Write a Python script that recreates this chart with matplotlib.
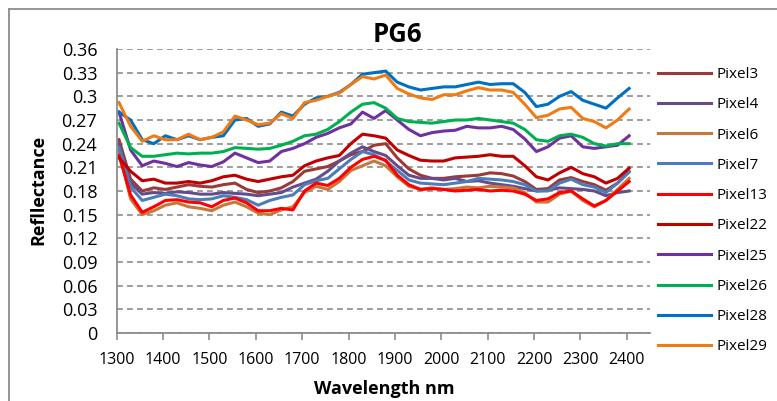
import numpy as np
import matplotlib
matplotlib.use("Agg")
import matplotlib.pyplot as plt
from matplotlib.lines import Line2D

# ##### Data #####
wavelength = np.arange(1305, 2406, 25)

pixel3 = [0.245, 0.195, 0.180, 0.184, 0.182, 0.185, 0.188, 0.186, 0.185, 0.188, 0.190, 0.182, 0.178, 0.180, 0.184,
          0.192, 0.205, 0.208, 0.211, 0.218, 0.226, 0.230, 0.238, 0.240, 0.222, 0.208, 0.200, 0.196, 0.196, 0.198,
          0.199, 0.200, 0.203, 0.202, 0.199, 0.192, 0.182, 0.183, 0.194, 0.197, 0.192, 0.188, 0.181, 0.190, 0.205]
pixel4 = [0.240, 0.190, 0.176, 0.178, 0.177, 0.179, 0.178, 0.176, 0.176, 0.178, 0.177, 0.176, 0.174, 0.176, 0.178,
          0.185, 0.190, 0.195, 0.205, 0.218, 0.228, 0.236, 0.230, 0.225, 0.212, 0.200, 0.196, 0.196, 0.194, 0.196,
          0.192, 0.193, 0.190, 0.188, 0.186, 0.183, 0.180, 0.181, 0.184, 0.183, 0.182, 0.180, 0.174, 0.178, 0.180]
pixel6 = [0.230, 0.170, 0.150, 0.155, 0.162, 0.165, 0.160, 0.158, 0.155, 0.162, 0.166, 0.160, 0.152, 0.150, 0.156,
          0.160, 0.178, 0.186, 0.182, 0.192, 0.206, 0.212, 0.218, 0.212, 0.198, 0.186, 0.182, 0.184, 0.182, 0.183,
          0.185, 0.184, 0.186, 0.185, 0.184, 0.178, 0.166, 0.166, 0.176, 0.180, 0.168, 0.160, 0.168, 0.182, 0.196]
pixel7 = [0.235, 0.185, 0.168, 0.172, 0.176, 0.174, 0.170, 0.169, 0.170, 0.174, 0.172, 0.169, 0.162, 0.168, 0.172,
          0.175, 0.188, 0.193, 0.196, 0.208, 0.220, 0.230, 0.226, 0.218, 0.206, 0.194, 0.190, 0.189, 0.188, 0.190,
          0.192, 0.196, 0.195, 0.194, 0.192, 0.188, 0.180, 0.180, 0.190, 0.195, 0.188, 0.185, 0.178, 0.190, 0.204]
pixel13 = [0.225, 0.175, 0.153, 0.160, 0.168, 0.169, 0.166, 0.165, 0.160, 0.168, 0.171, 0.165, 0.155, 0.155, 0.158,
           0.156, 0.180, 0.190, 0.187, 0.196, 0.210, 0.220, 0.224, 0.219, 0.200, 0.188, 0.182, 0.183, 0.182, 0.180,
           0.181, 0.182, 0.180, 0.181, 0.180, 0.176, 0.168, 0.170, 0.178, 0.180, 0.170, 0.161, 0.168, 0.180, 0.192]
pixel22 = [0.222, 0.205, 0.193, 0.195, 0.190, 0.190, 0.192, 0.190, 0.193, 0.198, 0.200, 0.195, 0.192, 0.195, 0.198,
           0.200, 0.212, 0.218, 0.222, 0.225, 0.240, 0.252, 0.250, 0.247, 0.232, 0.225, 0.219, 0.218, 0.218, 0.222,
           0.223, 0.224, 0.226, 0.224, 0.224, 0.212, 0.198, 0.194, 0.203, 0.210, 0.202, 0.198, 0.190, 0.196, 0.209]
pixel25 = [0.280, 0.232, 0.212, 0.218, 0.215, 0.211, 0.216, 0.213, 0.211, 0.217, 0.228, 0.222, 0.216, 0.218, 0.230,
           0.234, 0.240, 0.248, 0.253, 0.260, 0.265, 0.280, 0.272, 0.282, 0.270, 0.258, 0.250, 0.254, 0.256, 0.257,
           0.262, 0.260, 0.260, 0.262, 0.258, 0.246, 0.230, 0.236, 0.247, 0.250, 0.236, 0.234, 0.236, 0.238, 0.250]
pixel26 = [0.266, 0.235, 0.224, 0.224, 0.226, 0.228, 0.227, 0.228, 0.228, 0.230, 0.235, 0.234, 0.233, 0.234, 0.238,
           0.243, 0.250, 0.252, 0.258, 0.268, 0.280, 0.290, 0.292, 0.285, 0.272, 0.268, 0.267, 0.266, 0.268, 0.270,
           0.270, 0.272, 0.270, 0.268, 0.266, 0.258, 0.245, 0.243, 0.250, 0.252, 0.248, 0.240, 0.237, 0.240, 0.240]
pixel28 = [0.280, 0.270, 0.245, 0.240, 0.250, 0.245, 0.250, 0.245, 0.248, 0.250, 0.270, 0.272, 0.262, 0.265, 0.280,
           0.275, 0.290, 0.298, 0.300, 0.305, 0.315, 0.328, 0.330, 0.332, 0.318, 0.312, 0.308, 0.310, 0.312, 0.312,
           0.315, 0.318, 0.315, 0.316, 0.316, 0.305, 0.287, 0.290, 0.300, 0.306, 0.295, 0.290, 0.285, 0.298, 0.310]
pixel29 = [0.292, 0.262, 0.243, 0.250, 0.245, 0.245, 0.252, 0.245, 0.248, 0.255, 0.275, 0.270, 0.264, 0.266, 0.278,
           0.272, 0.292, 0.295, 0.300, 0.304, 0.315, 0.325, 0.322, 0.327, 0.310, 0.303, 0.298, 0.296, 0.302, 0.302,
           0.307, 0.311, 0.308, 0.308, 0.305, 0.290, 0.273, 0.276, 0.284, 0.286, 0.272, 0.268, 0.260, 0.270, 0.284]

series_names = ["Pixel3", "Pixel4", "Pixel6", "Pixel7", "Pixel13", "Pixel22", "Pixel25", "Pixel26", "Pixel28", "Pixel29"]
series_values = [pixel3, pixel4, pixel6, pixel7, pixel13, pixel22, pixel25, pixel26, pixel28, pixel29]
series_colors = ["#9B3B38", "#674C8A", "#C8773A", "#4A7EBB", "#FF0000", "#C00000", "#7030A0", "#00B050", "#0070C0",
                 "#F07B14"]

x_ticks = list(range(1300, 2401, 100))
y_ticks = [0, 0.03, 0.06, 0.09, 0.12, 0.15, 0.18, 0.21, 0.24, 0.27, 0.3, 0.33, 0.36]
y_tick_labels = ["0", "0.03", "0.06", "0.09", "0.12", "0.15", "0.18", "0.21", "0.24", "0.27", "0.3", "0.33", "0.36"]


def main():
    plt.rcParams['font.family'] = ['Open Sans', 'DejaVu Sans']

    W, H = 777, 401
    fig = plt.figure(figsize=(W / 100, H / 100), dpi=100)
    ax = fig.add_axes([116.7 / W, 1 - 333 / H, (650 - 116.7) / W, (333 - 49) / H])

    # chart area border (top and left edges visible)
    fig.add_artist(Line2D([9 / W, 1.0], [1 - 9 / H, 1 - 9 / H], color="#8C8C8C", lw=1.3, transform=fig.transFigure))
    fig.add_artist(Line2D([9 / W, 9 / W], [0.0, 1 - 9 / H], color="#8C8C8C", lw=1.3, transform=fig.transFigure))

    for name, vals, col in zip(series_names, series_values, series_colors):
        ax.plot(wavelength, vals, color=col, lw=2.2, label=name, solid_joinstyle="round")

    ax.set_xlim(1300, 2450)
    ax.set_ylim(0, 0.36)
    ax.set_xticks(x_ticks)
    ax.set_yticks(y_ticks)
    ax.set_yticklabels(y_tick_labels)
    ax.tick_params(axis="x", labelsize=11.5, length=5, width=1.2, color="#8C8C8C", pad=9)
    ax.tick_params(axis="y", labelsize=13, length=0, pad=14)

    ax.grid(axis="y", color="#8C8C8C", linestyle=(0, (3.5, 2.5)), lw=1.2)
    ax.set_axisbelow(True)
    for s in ["top", "right"]:
        ax.spines[s].set_visible(False)
    for s in ["left", "bottom"]:
        ax.spines[s].set_color("#8C8C8C")
        ax.spines[s].set_linewidth(1.3)

    fig.text(397 / W, 1 - 34 / H, "PG6", fontsize=18.5, fontweight="bold", ha="center", va="center")
    fig.text(384 / W, 1 - 389 / H, "Wavelength nm", fontsize=13, fontweight="bold", ha="center", va="center")
    fig.text(38 / W, 1 - 190 / H, "Refllectance", fontsize=13, fontweight="bold", ha="center", va="center",
             rotation=90)

    handles, labels = ax.get_legend_handles_labels()
    fig.legend(handles, labels, loc="upper left", bbox_to_anchor=(658 / W, 1 - 67 / H), frameon=False,
               fontsize=11, handlelength=3.5, handletextpad=0.35, labelspacing=1.0, borderaxespad=0,
               borderpad=0)

    fig.savefig("out.png", dpi=100)


if __name__ == "__main__":
    main()
